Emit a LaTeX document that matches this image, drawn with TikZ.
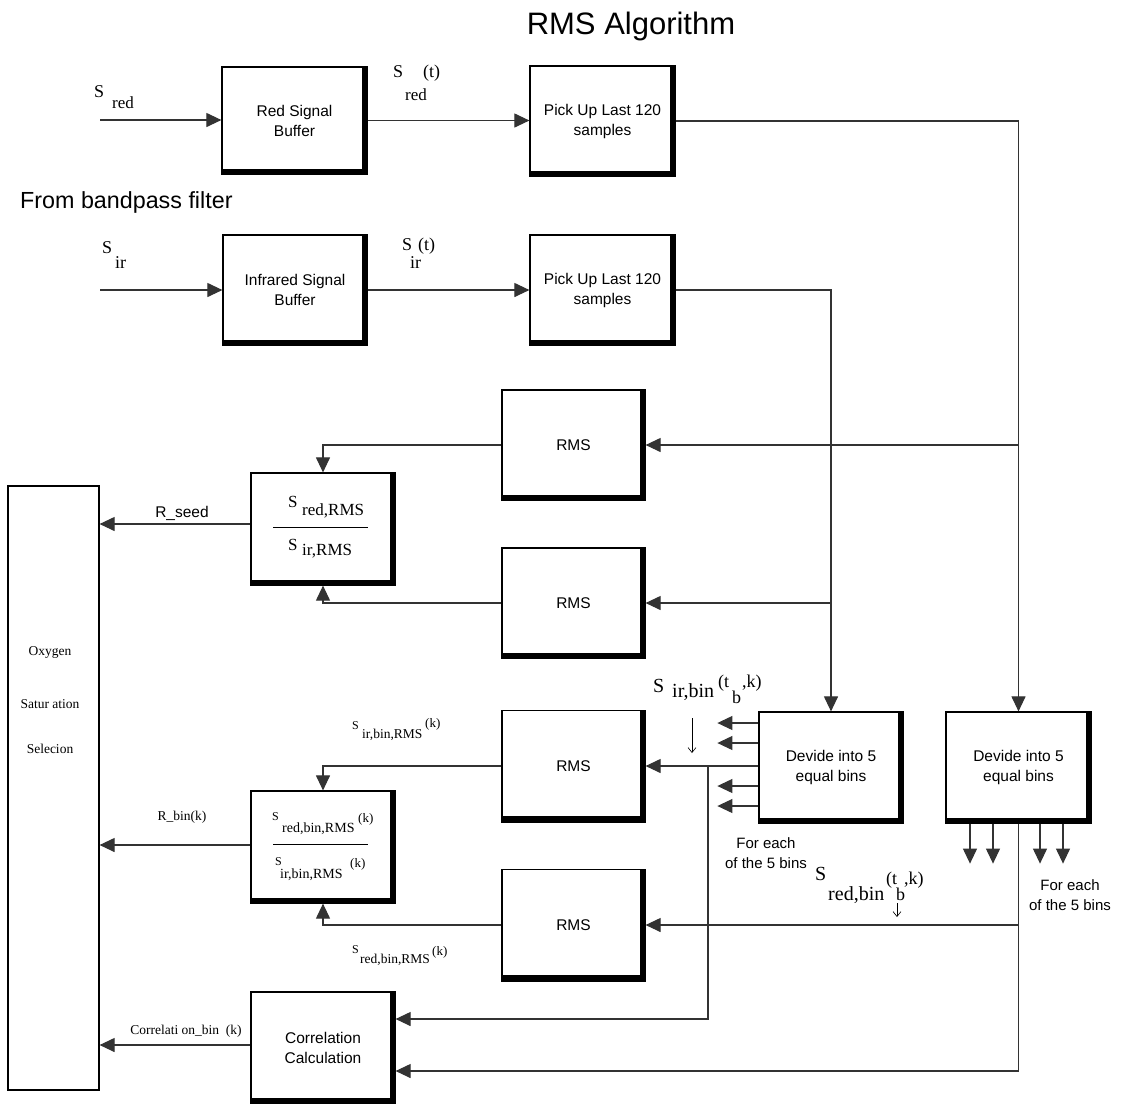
\documentclass[tikz,border=0pt]{standalone}
\usepackage{fontspec}
\setmainfont{Liberation Serif}
\setsansfont{Liberation Sans}
\usetikzlibrary{arrows.meta}
\newcommand{\fsz}[1]{\fontsize{#1}{#1}\selectfont}
\begin{document}
\begin{tikzpicture}[x=1pt,y=-1pt,
  blk/.style={draw, line width=1.2pt, fill=white, inner sep=0pt, align=center,
    font=\sffamily\fontsize{15.5}{20}\selectfont},
  plainbox/.style={draw, line width=1.2pt, fill=white, inner sep=0pt},
  con/.style={line width=1.1pt, draw=black!80},
  arr/.style={con, -{Triangle[length=15pt,width=14pt]}},
  thinarr/.style={line width=0.6pt, -{Straight Barb[length=5pt,width=8pt]}},
  tm/.style={anchor=base west, inner sep=0pt, font=\fsz{18}},
  tms/.style={anchor=base west, inner sep=0pt, font=\fsz{13.5}},
  sf/.style={anchor=base, inner sep=0pt, font=\sffamily\fsz{15}, align=center}
]
\fill[white] (0,0) rectangle (1121,1104);
\useasboundingbox (0,0) rectangle (1121,1104);

% title
\node[anchor=base, inner sep=0pt, font=\sffamily\fsz{31}] (title) at (631,34) {RMS Algorithm};
\node[anchor=base west, inner sep=0pt, font=\sffamily\fsz{23.3}] (frombp) at (20,208) {From bandpass filter};

% boxes
\node[blk, minimum width=145pt, minimum height=107pt] (redbuf) at (294.5,120.5) {Red Signal\\Buffer};
\node[blk, minimum width=145pt, minimum height=110pt] (pick1) at (602.5,121) {Pick Up Last 120\\samples};
\node[blk, minimum width=144pt, minimum height=110pt] (irbuf) at (295,290) {Infrared Signal\\Buffer};
\node[blk, minimum width=145pt, minimum height=110pt] (pick2) at (602.5,290) {Pick Up Last 120\\samples};
\node[blk, minimum width=143pt, minimum height=110pt] (rms1) at (573.5,445) {RMS};
\node[blk, minimum width=144pt, minimum height=112pt] (ratio1) at (323,529) {};
\node[blk, minimum width=143pt, minimum height=110pt] (rms2) at (573.5,603) {RMS};
\node[plainbox, minimum width=91pt, minimum height=604pt] (oxy) at (53.5,788) {};
\node[blk, minimum width=143pt, minimum height=111pt] (rms3) at (573.5,766) {RMS};
\node[blk, minimum width=144pt, minimum height=111pt] (div1) at (831,767.5) {Devide into 5\\equal bins};
\node[blk, minimum width=145pt, minimum height=111pt] (div2) at (1018.5,767.5) {Devide into 5\\equal bins};
\node[blk, minimum width=144pt, minimum height=112pt] (ratio2) at (323,847) {};
\node[blk, minimum width=143pt, minimum height=111pt] (rms4) at (573.5,925) {RMS};
\node[blk, minimum width=144pt, minimum height=111pt] (corr) at (323,1047.5) {Correlation\\Calculation};

% shadows (thick right and bottom edges)
\foreach \b in {redbuf,pick1,irbuf,pick2,rms1,ratio1,rms2,rms3,div1,div2,ratio2,rms4,corr}{
  \fill ([xshift=-6pt]\b.north east) rectangle ([xshift=0.6pt,yshift=-0.6pt]\b.south east);
  \fill ([xshift=-0.6pt,yshift=6pt]\b.south west) rectangle ([xshift=0.6pt,yshift=-0.6pt]\b.south east);
}

% oxygen text
\node[anchor=base, inner sep=0pt, font=\fsz{13.5}] (ox1) at (50,655) {Oxygen};
\node[anchor=base, inner sep=0pt, font=\fsz{13.5}] (ox2) at (50,708) {Satur ation};
\node[anchor=base, inner sep=0pt, font=\fsz{13.5}] (ox3) at (50,753) {Selecion};

% fraction lines
\draw[line width=1pt] ([xshift=-50pt,yshift=2pt]ratio1.center) -- ++(95,0);
\draw[line width=1pt] ([xshift=-50pt,yshift=3pt]ratio2.center) -- ++(95,0);

% ratio1 text
\node[tm, font=\fsz{17}] (r1a) at (288,507) {S};
\node[tm, font=\fsz{17}] (r1b) at (302,515) {red,RMS};
\node[tm, font=\fsz{17}] (r1c) at (288,550) {S};
\node[tm, font=\fsz{17}] (r1d) at (302,555) {ir,RMS};

% ratio2 text
\node[tm, font=\fsz{12}] (r2a) at (272,820) {S};
\node[tms, font=\fsz{14}] (r2b) at (282,832) {red,bin,RMS};
\node[tms, font=\fsz{13}] (r2c) at (358,822) {(k)};
\node[tm, font=\fsz{12}] (r2d) at (275,865) {S};
\node[tms, font=\fsz{14}] (r2e) at (280,878) {ir,bin,RMS};
\node[tms, font=\fsz{13}] (r2f) at (350,867) {(k)};

% input labels
\node[tm] (sred1) at (94,97) {S};
\node[tm, font=\fsz{17}] (sred2) at (112,108) {red};
\node[tm] (sredt1) at (393,77) {S};
\node[tm] (sredt2) at (423,77) {(t)};
\node[tm, font=\fsz{17}] (sredt3) at (405,100) {red};
\node[tm] (sir1) at (102,253) {S};
\node[tm] (sir2) at (115,268) {ir};
\node[tm] (sirt1) at (402,250) {S};
\node[tm] (sirt2) at (418,250) {(t)};
\node[tm] (sirt3) at (410,268) {ir};

% connectors top
\coordinate (inred) at (100,120);
\coordinate (inir) at (100,290);
\draw[arr] (inred) -- (inred -| redbuf.west);
\draw[arr] (redbuf.east) -- (redbuf.east -| pick1.west);
\draw[arr] (pick1.east) -| (div2.north);
\draw[arr] (inir) -- (irbuf.west);
\draw[arr] (irbuf.east) -- (pick2.west);
\draw[arr] (pick2.east) -| (div1.north);
\coordinate (b1) at (div2.north |- rms1.east);
\coordinate (b2) at (div1.north |- rms2.east);
\draw[arr] (b1) -- (rms1.east);
\draw[arr] (b2) -- (rms2.east);
\draw[arr] (rms1.west) -| (ratio1.north);
\draw[arr] (rms2.west) -| (ratio1.south);
\draw[arr] ([yshift=5pt]ratio1.west) -- ([yshift=5pt]ratio1.west -| oxy.east);
\node[anchor=base, inner sep=0pt, font=\sffamily\fsz{15.5}] (rseed) at (182,517) {R\_seed};

% div1 outputs
\draw[arr] (div1.west |- rms3.east) -- (rms3.east);
\draw[arr] ([yshift=44.5pt]div1.west) -- ++(-41,0);
\draw[arr] ([yshift=24.5pt]div1.west) -- ++(-41,0);
\draw[arr] ([yshift=-18.5pt]div1.west) -- ++(-41,0);
\draw[arr] ([yshift=-38.5pt]div1.west) -- ++(-41,0);
\coordinate (j1) at (708,766);
\draw[arr] (j1) |- ([yshift=28.5pt]corr.east);
\node[tm, font=\fsz{20}] (sib1) at (653,692) {S};
\node[tm, font=\fsz{20}] (sib2) at (672,697) {ir,bin};
\node[tm, font=\fsz{18}] (sib3) at (718,687) {(t};
\node[tm, font=\fsz{18}] (sib4) at (732,703) {b};
\node[tm, font=\fsz{18}] (sib5) at (742,687) {,k)};
\coordinate (da1) at (692,718);
\draw[thinarr] (da1) -- ++(0,35);
\node[sf] (fe1) at (766,848) {For each};
\node[sf] (fe2) at (766,868) {of the 5 bins};

% div2 outputs
\draw[arr] ([xshift=-48.5pt]div2.south) -- ++(0,40);
\draw[arr] ([xshift=-25.5pt]div2.south) -- ++(0,40);
\draw[arr] ([xshift=21.5pt]div2.south) -- ++(0,40);
\draw[arr] ([xshift=44.5pt]div2.south) -- ++(0,40);
\draw[arr] (div2.south) |- ([yshift=-23.5pt]corr.east);
\coordinate (j2) at (div2.south |- rms4.east);
\draw[arr] (j2) -- (rms4.east);
\node[tm, font=\fsz{20}] (srb1) at (815,880) {S};
\node[tm, font=\fsz{20}] (srb2) at (828,900) {red,bin};
\node[tm, font=\fsz{18}] (srb3) at (886,884) {(t};
\node[tm, font=\fsz{18}] (srb4) at (896,900) {b};
\node[tm, font=\fsz{18}] (srb5) at (904,884) {,k)};
\coordinate (da2) at (897,903);
\draw[thinarr] (da2) -- ++(0,14);
\node[sf] (fe3) at (1070,890) {For each};
\node[sf] (fe4) at (1070,910) {of the 5 bins};

% lower rms to ratio2
\draw[arr] (rms3.west) -| (ratio2.north);
\draw[arr] (rms4.west) -| (ratio2.south);
\node[tm, font=\fsz{12}] (l1a) at (352,729) {S};
\node[tms] (l1b) at (362,738) {ir,bin,RMS};
\node[tms, font=\fsz{13}] (l1c) at (425,727) {(k)};
\node[tm, font=\fsz{12}] (l2a) at (352,953) {S};
\node[tms] (l2b) at (360,963) {red,bin,RMS};
\node[tms, font=\fsz{13}] (l2c) at (432,955) {(k)};

\draw[arr] ([yshift=2pt]ratio2.west) -- ([yshift=2pt]ratio2.west -| oxy.east);
\node[anchor=base, inner sep=0pt, font=\fsz{13.5}] (rbin) at (182,820) {R\_bin(k)};
\draw[arr] ([yshift=2.5pt]corr.west) -- ([yshift=2.5pt]corr.west -| oxy.east);
\node[anchor=base, inner sep=0pt, font=\fsz{13.5}] (corrl) at (186,1034) {Correlati on\_bin~~(k)};
\end{tikzpicture}
\end{document}
